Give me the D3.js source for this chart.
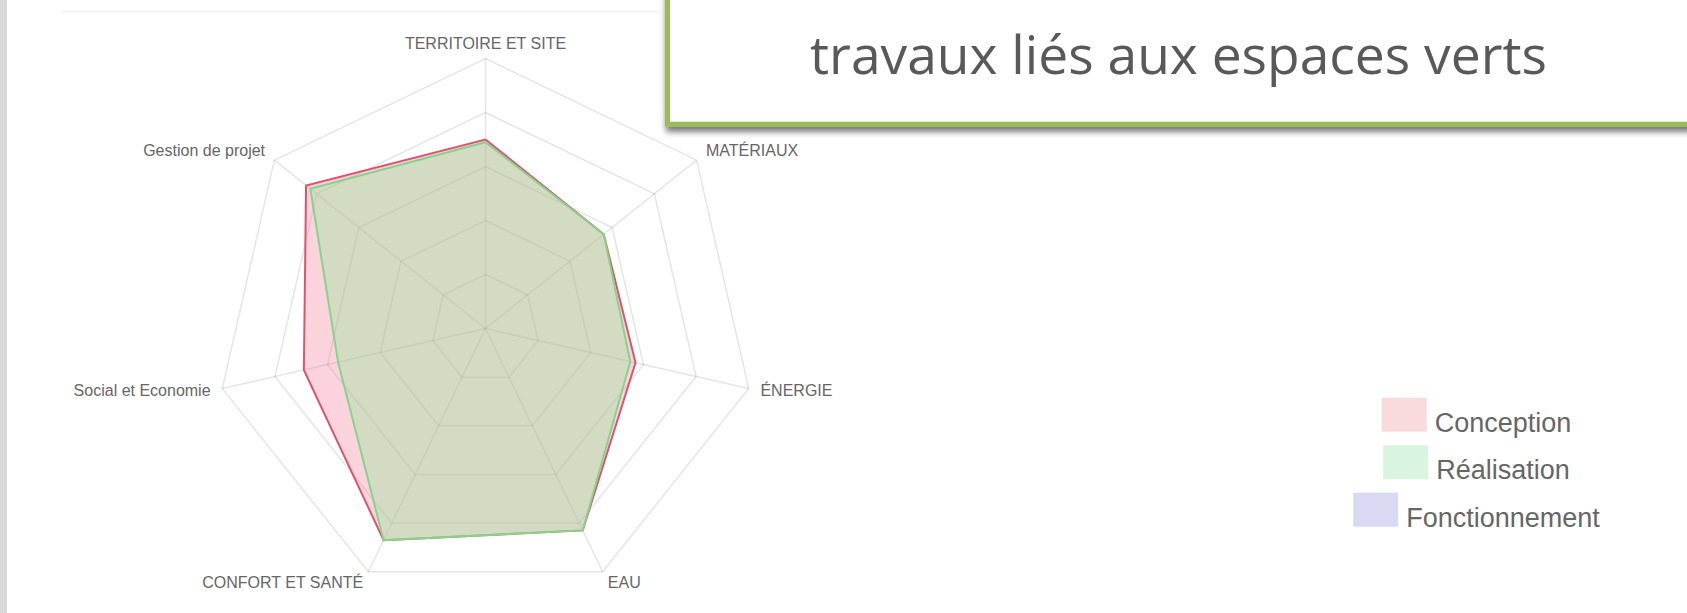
<!DOCTYPE html>
<html>
<head>
<meta charset="utf-8">
<script src="https://cdn.jsdelivr.net/npm/d3@7"></script>
<style>
  html, body { margin: 0; padding: 0; background: #fff; overflow: hidden; }
  svg { display: block; }
</style>
</head>
<body>
<div id="chart"></div>
<script>
  "use strict";

  // axes, clockwise from the top
  const axes = ["TERRITOIRE ET SITE", "MATÉRIAUX", "ÉNERGIE", "EAU", "CONFORT ET SANTÉ", "Social et Economie", "Gestion de projet"];
  const conception = [70, 56, 57, 83, 87, 69, 85];
  const realisation = [69, 56, 55, 83, 87, 56, 83];
  const fonctionnement = [];   // only in the legend
  const seriesNames = ["Conception", "Réalisation", "Fonctionnement"];
  const gridTicks = [20, 40, 60, 80, 100];
  const titleText = "travaux liés aux espaces verts";

  const series = [conception, realisation, fonctionnement];
  const strokes = ["#dc5470", "#86d48c", "#9a9ae6"];
  const fills = ["rgba(240,110,140,0.30)", "rgba(140,232,150,0.36)", "rgba(110,110,220,0.25)"];
  const legendFills = ["#fadbdd", "#d9f5e0", "#d9d9f4"];

  const width = 1687, height = 613;
  const cx = 485.5, cy = 328.5, R = 270;

  const svg = d3.select("#chart").append("svg")
      .attr("width", width)
      .attr("height", height)
      .attr("viewBox", [0, 0, width, height]);

  // page bits: grey strip on the left, faint rule at the top
  svg.append("rect").attr("x", 0).attr("y", 0).attr("width", 7).attr("height", height).attr("fill", "#d9d9d9");
  svg.append("line").attr("x1", 62).attr("x2", 660).attr("y1", 11.5).attr("y2", 11.5)
      .attr("stroke", "#f1f1f1").attr("stroke-width", 1.5);

  const r = d3.scaleLinear().domain([0, 100]).range([0, R]);
  const angle = d3.scaleLinear().domain([0, axes.length]).range([0, 2 * Math.PI]);

  const radar = svg.append("g").attr("transform", `translate(${cx},${cy})`);

  // grid
  const ring = d3.lineRadial()
      .angle((d, i) => angle(i))
      .radius(d => d)
      .curve(d3.curveLinearClosed);

  radar.append("g")
      .attr("fill", "none")
      .attr("stroke", "rgba(0,0,0,0.1)")
      .attr("stroke-width", 1.5)
    .selectAll("path")
    .data(gridTicks)
    .join("path")
      .attr("d", t => ring(axes.map(() => r(t))));

  radar.append("g")
      .attr("stroke", "rgba(0,0,0,0.1)")
      .attr("stroke-width", 1.5)
    .selectAll("line")
    .data(axes)
    .join("line")
      .attr("x1", 0).attr("y1", 0)
      .attr("x2", (d, i) => Math.sin(angle(i)) * r(100))
      .attr("y2", (d, i) => -Math.cos(angle(i)) * r(100));

  // data polygons
  const area = d3.lineRadial()
      .angle((d, i) => angle(i))
      .radius(d => r(d))
      .curve(d3.curveLinearClosed);

  radar.append("g")
    .selectAll("path")
    .data(series.map((values, k) => ({values, k})).filter(d => d.values.length))
    .join("path")
      .attr("d", d => area(d.values))
      .attr("fill", d => fills[d.k])
      .attr("stroke", d => strokes[d.k])
      .attr("stroke-width", 2)
      .attr("stroke-linejoin", "miter");

  // axis labels
  radar.append("g")
      .attr("font-family", "'Liberation Sans', Arial, sans-serif")
      .attr("font-size", 16)
      .attr("fill", "#666")
    .selectAll("text")
    .data(axes)
    .join("text")
      .each(function(d, i) {
        const a = angle(i), s = Math.sin(a), c = -Math.cos(a);
        const rr = r(100) + 12;
        d3.select(this)
            .attr("x", s * rr)
            .attr("y", c * rr + 5 + 3 * Math.min(0, c))
            .attr("text-anchor", Math.abs(s) < 0.1 ? "middle" : s > 0 ? "start" : "end");
      })
      .text(d => d);

  // legend
  const legend = svg.append("g")
      .attr("font-family", "'Liberation Sans', Arial, sans-serif")
      .attr("font-size", 27)
      .attr("fill", "#666");

  const legendCx = 1476.5, boxW = 45, boxH = 34, gap = 8;
  const rowY = d3.scalePoint().domain(seriesNames).range([397.7, 492.7]);

  seriesNames.forEach((name, k) => {
    const row = legend.append("g");
    const label = row.append("text").attr("y", rowY(name) + boxH).text(name);
    const w = boxW + gap + label.node().getComputedTextLength();
    const x0 = legendCx - w / 2;
    row.append("rect")
        .attr("x", x0).attr("y", rowY(name))
        .attr("width", boxW).attr("height", boxH)
        .attr("fill", legendFills[k]);
    label.attr("x", x0 + boxW + gap);
  });

  // title box
  const defs = svg.append("defs");
  const shadow = defs.append("filter").attr("id", "shadow")
      .attr("x", "-5%").attr("y", "-10%").attr("width", "110%").attr("height", "130%");
  shadow.append("feDropShadow")
      .attr("dx", 1).attr("dy", 5)
      .attr("stdDeviation", 3)
      .attr("flood-color", "#000")
      .attr("flood-opacity", 0.55);

  svg.append("rect")
      .attr("x", 667.5).attr("y", -20)
      .attr("width", 1100).attr("height", 144.2)
      .attr("fill", "#fff")
      .attr("stroke", "#9bbb59")
      .attr("stroke-width", 5)
      .attr("filter", "url(#shadow)");

  const title = svg.append("text")
      .attr("x", 1178.5).attr("y", 74)
      .attr("text-anchor", "middle")
      .attr("font-family", "'Open Sans', 'Noto Sans', sans-serif")
      .attr("font-size", 53)
      .attr("fill", "#595959")
      .text(titleText);

  // fit the title to the width of the original
  const tw = title.node().getComputedTextLength();
  title.attr("font-size", 53 * 737 / tw);
</script>
</body>
</html>
